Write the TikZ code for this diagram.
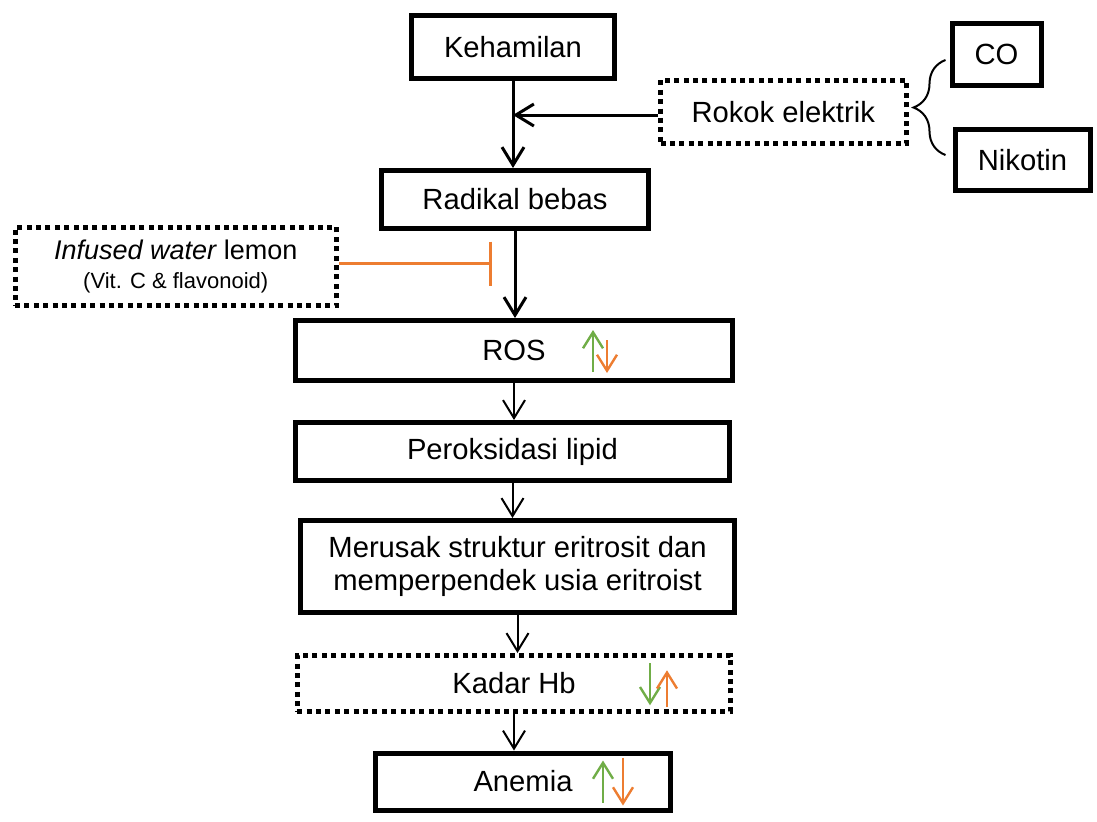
\documentclass[tikz,border=0pt]{standalone}
\usepackage{fontspec}
\setmainfont{Liberation Sans}
\usetikzlibrary{arrows.meta,positioning,decorations.pathreplacing}
\definecolor{orng}{RGB}{237,125,49}
\definecolor{grn}{RGB}{112,173,71}

\begin{document}
\begin{tikzpicture}[
  x=0.5pt, y=-0.5pt,
  font=\fontsize{14.6}{16.5}\selectfont,
  box/.style={draw,line width=2.5pt,align=center,inner sep=2pt},
  dbox/.style={draw,line width=2.5pt,dash pattern=on 2.5pt off 2.2pt,align=center,inner sep=2pt},
  arr/.style={-{Straight Barb[length=9pt,width=11pt]},line width=1pt},
  arrb/.style={arr,line width=1.5pt},
  inh/.style={-{Bar[width=22pt]},draw=orng,line width=1.5pt},
  ind/.style={-{Straight Barb[length=8pt,width=10pt]},line width=1.2pt},
  brc/.style={decorate,decoration={brace,amplitude=16pt},line width=1pt}
]
\useasboundingbox (0,0) rectangle (1097,821);

% ---------- main chain ----------
\node[box,minimum width=101.5pt,minimum height=31.5pt] (keh) at (513,47) {Kehamilan};
\node[box,minimum width=133.5pt,minimum height=29pt,below=43.5pt of keh,xshift=1pt] (rad) {Radikal bebas};
\node[box,minimum width=218.5pt,minimum height=30pt,below=43.5pt of rad,xshift=-0.5pt] (ros) {ROS};
\node[box,minimum width=217pt,minimum height=29pt,below=18.5pt of ros,xshift=-0.75pt] (per) {Peroksidasi lipid};
\node[box,minimum width=217pt,minimum height=46pt,below=17.5pt of per,xshift=2.5pt] (mer)
  {Merusak struktur eritrosit dan\\ memperpendek usia eritroist};
\node[dbox,minimum width=216.75pt,minimum height=27.75pt,below=19pt of mer,xshift=-1.75pt] (hb) {Kadar Hb};
\node[box,minimum width=147.5pt,minimum height=28.5pt,below=18.5pt of hb,xshift=4.5pt] (anm) {Anemia};

\draw[arrb] (keh.south) -- (keh.south |- rad.north);
\draw[arrb] (rad.south) -- (rad.south |- ros.north);
\draw[arr] (ros.south) -- (ros.south |- per.north);
\draw[arr] (per.south) -- (per.south |- mer.north);
\draw[arr] (mer.south) -- (mer.south |- hb.north);
\draw[arr] (hb.south) -- (hb.south |- anm.north);

% ---------- rokok elektrik ----------
\node[dbox,minimum width=122.75pt,minimum height=31.75pt,right=20.5pt of keh,yshift=-32.5pt] (rok) {Rokok elektrik};
\node[box,minimum width=44.5pt,minimum height=31pt,right=20.5pt of rok,yshift=28.75pt] (co) {CO};
\node[box,minimum width=67.5pt,minimum height=30.5pt,right=22pt of rok,yshift=-24pt] (nik) {Nikotin};
\draw[arrb] ([yshift=-1.5pt]rok.west) -- ([yshift=-1.5pt]rok.west -| keh.south);
\draw[brc] ([shift={(-7,-5)}]nik.west) -- ([shift={(-4,5.5)}]co.west);

% ---------- infused water ----------
\node[dbox,minimum width=160.75pt,minimum height=39.25pt,left=20pt of rad,yshift=-33.5pt,font=\fontsize{13.5}{14.5}\selectfont] (inf)
  {\itshape Infused water\upshape{} lemon\\ {\fontsize{11}{13}\selectfont (Vit. C \& flavonoid)}};
\path (rad.south |- inf.east) ++(-23,-3) coordinate (blk);
\draw[inh] ([yshift=1.5pt]inf.east) -- (blk);

% ---------- naik / turun ----------
\draw[ind,grn] ([shift={(79,21.5)}]ros.center) -- ++(0,-42);
\draw[ind,orng] ([shift={(93,-10.5)}]ros.center) -- ++(0,33);
\draw[ind,grn] ([shift={(136,-20)}]hb.center) -- ++(0,42);
\draw[ind,orng] ([shift={(153,24)}]hb.center) -- ++(0,-37);
\draw[ind,grn] ([shift={(80,21)}]anm.center) -- ++(0,-42);
\draw[ind,orng] ([shift={(100,-24)}]anm.center) -- ++(0,48);

\end{tikzpicture}
\end{document}
